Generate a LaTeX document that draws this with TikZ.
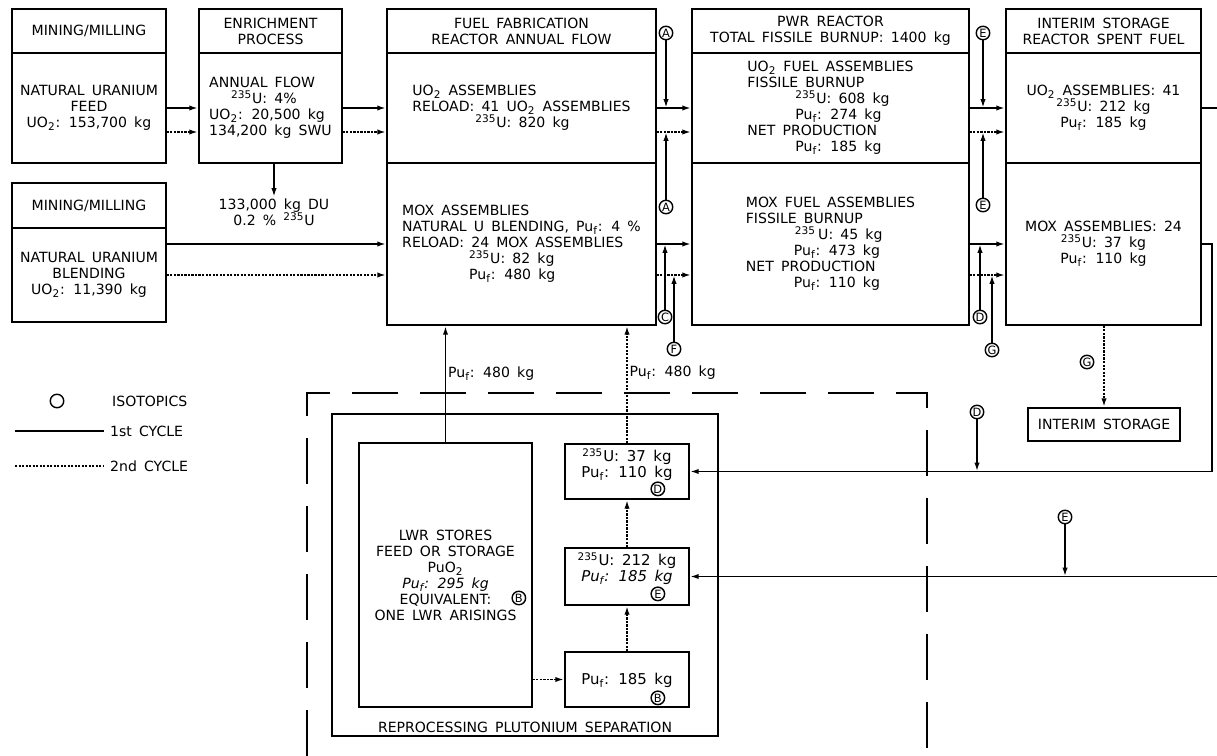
\documentclass[tikz,border=0pt]{standalone}
\usepackage{fontspec}
\setmainfont{DejaVu Sans}[WordSpace=1.6]
\usetikzlibrary{arrows.meta, calc}
\newcommand{\uTF}{\textsuperscript{235}U}
\newcommand{\puF}{Pu\textsubscript{f}}
\newcommand{\uoTwo}{UO\textsubscript{2}}
\tikzstyle{box}=[draw, line width=1pt, inner sep=1pt, align=center]
\tikzstyle{iso}=[circle, draw, line width=0.8pt, inner sep=0pt, minimum size=0.27cm, font=\fontsize{6.5}{6.5}\selectfont]
\tikzstyle{cycA}=[line width=1pt, -{Latex[length=5pt,width=3pt]}]
\tikzstyle{cycB}=[line width=1pt, dash pattern=on 1.2pt off 0.8pt, -{Latex[length=5pt,width=3pt]}]
\tikzstyle{boundary}=[line width=1pt, dash pattern=on 0.92cm off 0.44cm]

\begin{document}
\begin{tikzpicture}[x=0.02cm, y=-0.02cm, every node/.style={font=\fontsize{8}{9.1}\selectfont}]
	\useasboundingbox (0,0) rectangle (1217,756);

	% Mining and enrichment
	\node[box, minimum width=3.08cm, minimum height=0.88cm] (mine1h) at (89,31) {MINING/MILLING};
	\node[box, minimum width=3.08cm, minimum height=2.2cm] (mine1) at (89,108) {NATURAL URANIUM\\FEED\\\uoTwo: 153,700 kg};
	\node[box, minimum width=3.08cm, minimum height=0.9cm] (mine2h) at (89,205.5) {MINING/MILLING};
	\node[box, minimum width=3.08cm, minimum height=1.88cm] (mine2) at (89,275) {NATURAL URANIUM\\BLENDING\\\uoTwo: 11,390 kg};
	\node[box, minimum width=2.86cm, minimum height=0.88cm] (enrh) at (270.5,31) {ENRICHMENT\\PROCESS};
	\node[box, minimum width=2.86cm, minimum height=2.2cm, align=left] (enr) at (270.5,108) {ANNUAL FLOW\\\hspace*{0.44cm}\uTF: 4\%\\\uoTwo: 20,500 kg\\134,200 kg SWU};
	\node[anchor=north, inner sep=1pt, align=center] (du) at (274,197) {133,000 kg DU\\0.2 \% \uTF};

	% Fuel fabrication
	\node[box, minimum width=5.38cm, minimum height=0.88cm] (fabh) at (521.5,31) {FUEL FABRICATION\\REACTOR ANNUAL FLOW};
	\node[box, minimum width=5.38cm, minimum height=2.2cm, align=left] (fab1) at (521.5,108) {\uoTwo\ ASSEMBLIES\\RELOAD: 41 \uoTwo\ ASSEMBLIES\\\hspace*{1.26cm}\uTF: 820 kg};
	\node[box, minimum width=5.38cm, minimum height=3.24cm, align=left] (fab2) at (521.5,244) {MOX ASSEMBLIES\\NATURAL U BLENDING, \puF: 4 \%\\RELOAD: 24 MOX ASSEMBLIES\\\hspace*{1.34cm}\uTF: 82 kg\\\hspace*{1.34cm}\puF: 480 kg};

	% PWR reactor
	\node[box, minimum width=5.54cm, minimum height=0.88cm] (pwrh) at (830.5,31) {PWR REACTOR\\TOTAL FISSILE BURNUP: 1400 kg};
	\node[box, minimum width=5.54cm, minimum height=2.2cm, align=left] (pwr1) at (830.5,108) {\uoTwo\ FUEL ASSEMBLIES\\FISSILE BURNUP\\\hspace*{0.96cm}\uTF: 608 kg\\\hspace*{0.96cm}\puF: 274 kg\\NET PRODUCTION\\\hspace*{0.96cm}\puF: 185 kg};
	\node[box, minimum width=5.54cm, minimum height=3.24cm, align=left] (pwr2) at (830.5,244) {MOX FUEL ASSEMBLIES\\FISSILE BURNUP\\\hspace*{0.98cm}\textsuperscript{235}\,U: 45 kg\\\hspace*{0.96cm}\puF: 473 kg\\NET PRODUCTION\\\hspace*{0.96cm}\puF: 110 kg};

	% Interim storage
	\node[box, minimum width=3.9cm, minimum height=0.88cm] (inth) at (1103.5,31) {INTERIM STORAGE\\REACTOR SPENT FUEL};
	\node[box, minimum width=3.9cm, minimum height=2.2cm] (int1) at (1103.5,108) {\uoTwo\ ASSEMBLIES: 41\\\uTF: 212 kg\\\puF: 185 kg};
	\node[box, minimum width=3.9cm, minimum height=3.24cm] (int2) at (1103.5,244) {MOX ASSEMBLIES: 24\\\uTF: 37 kg\\\puF: 110 kg};
	\node[box, minimum width=3.04cm, minimum height=0.66cm] (istore) at (1104,424.5) {INTERIM STORAGE};

	% Reprocessing
	\draw[boundary] (307,756) -- (307,393) -- (927,393) -- (927,756);
	\node[box, minimum width=7.72cm, minimum height=6.44cm] (repro) at (525,575) {};
	\node[anchor=south, inner sep=2pt] (reprolab) at (repro.south) {REPROCESSING PLUTONIUM SEPARATION};
	\node[box, minimum width=3.46cm, minimum height=5.28cm] (lwr) at (445.5,575) {LWR STORES\\FEED OR STORAGE\\PuO\textsubscript{2}\\\textit{\puF: 295 kg}\\EQUIVALENT:\hspace*{1.2cm}\\ONE LWR ARISINGS};
	\node[box, minimum width=2.48cm, minimum height=1.1cm] (sepD) at (627,471.5) {};
	\node[box, minimum width=2.48cm, minimum height=1.14cm] (sepE) at (627,576.5) {};
	\node[box, minimum width=2.48cm, minimum height=1.1cm] (sepB) at (627,679.5) {};
	\node[align=center, font=\fontsize{8.5}{9}\selectfont] (sepDt) at ($(sepD)+(0,-7)$) {\uTF: 37 kg\\\puF: 110 kg};
	\node[align=center, font=\fontsize{8.5}{9}\selectfont] (sepEt) at ($(sepE)+(0,-8)$) {\uTF: 212 kg\\\textit{\puF: 185 kg}};
	\node[font=\fontsize{8.5}{9}\selectfont] (sepBt) at ($(sepB)+(0,1)$) {\puF: 185 kg};

	% Isotopics
	\node[iso] (isoA1) at (666,33) {A};
	\node[iso] (isoA2) at (666,207) {A};
	\node[iso] (isoC) at (665,317) {C};
	\node[iso] (isoF) at (674,349) {F};
	\node[iso] (isoE1) at (983,33) {E};
	\node[iso] (isoE2) at (983,205) {E};
	\node[iso] (isoD1) at (980,317) {D};
	\node[iso] (isoG1) at (992,350) {G};
	\node[iso] (isoG2) at (1087,362) {G};
	\node[iso] (isoD2) at (977,412) {D};
	\node[iso] (isoE3) at (1065,517) {E};
	\node[iso] (isoB1) at ($(lwr.east)+(-14,23)$) {B};
	\node[iso] (isoD3) at ($(sepD.south east)+(-32,-11)$) {D};
	\node[iso] (isoE4) at ($(sepE.south east)+(-32,-12)$) {E};
	\node[iso] (isoB2) at ($(sepB.south east)+(-32,-10)$) {B};

	% 1st and 2nd cycle flows
	\draw[cycA] (mine1.east) -- (enr.west);
	\draw[cycB] ($(mine1.east)+(0,24)$) -- ($(enr.west)+(0,24)$);
	\draw[cycA] (enr.east) -- (fab1.west);
	\draw[cycB] ($(enr.east)+(0,24)$) -- ($(fab1.west)+(0,24)$);
	\draw[cycA] (du.north |- enr.south) -- (du.north);
	\draw[cycA] (mine2.east |- fab2.west) -- (fab2.west);
	\draw[cycB] (mine2.east) -- ($(fab2.west)+(0,31)$);

	\coordinate (fabd1) at ($(fab1.east)+(0,24)$);
	\coordinate (fabd2) at ($(fab2.east)+(0,31)$);
	\draw[cycA] (fab1.east) -- (pwr1.west);
	\draw[cycB] (fabd1) -- ($(pwr1.west)+(0,24)$);
	\draw[cycA] (fab2.east) -- (pwr2.west);
	\draw[cycB] (fabd2) -- ($(pwr2.west)+(0,31)$);
	\draw[cycA] (isoA1) -- (isoA1 |- fab1.east);
	\draw[cycA] (isoA2) -- (isoA2 |- fabd1);
	\draw[cycA] (isoC) -- (isoC |- fab2.east);
	\draw[cycA] (isoF) -- (isoF |- fabd2);

	\coordinate (pwrd1) at ($(pwr1.east)+(0,24)$);
	\coordinate (pwrd2) at ($(pwr2.east)+(0,31)$);
	\draw[cycA] (pwr1.east) -- (int1.west);
	\draw[cycB] (pwrd1) -- ($(int1.west)+(0,24)$);
	\draw[cycA] (pwr2.east) -- (int2.west);
	\draw[cycB] (pwrd2) -- ($(int2.west)+(0,31)$);
	\draw[cycA] (isoE1) -- (isoE1 |- pwr1.east);
	\draw[cycA] (isoE2) -- (isoE2 |- pwrd1);
	\draw[cycA] (isoD1) -- (isoD1 |- pwr2.east);
	\draw[cycA] (isoG1) -- (isoG1 |- pwrd2);

	\draw[cycB] (istore.north |- int2.south) -- (istore.north);
	\coordinate (rim1) at (1217,108);
	\coordinate (rim2) at (rim1 |- sepE.east);
	\draw[cycA, -] (int1.east) -- (rim1);
	\draw[cycA] (rim2) -- (sepE.east);
	\draw[cycA] (int2.east) -- ++(10,0) |- (sepD.east);
	\draw[cycA] (isoD2) -- (isoD2 |- sepD.east);
	\draw[cycA] (isoE3) -- (isoE3 |- sepE.east);

	\draw[cycA] (lwr.north) -- node[pos=0.59, right, inner sep=1pt] {\puF: 480 kg} (lwr.north |- fab2.south);
	\draw[cycB] (sepD.north) -- node[pos=0.6, right, inner sep=1pt] {\puF: 480 kg} (sepD.north |- fab2.south);
	\draw[cycB] (sepE.north) -- (sepD.south);
	\draw[cycB] (sepB.north) -- (sepE.south);
	\draw[cycB] (lwr.east |- sepB.west) -- (sepB.west);

	% Legend
	\node[iso] (legiso) at (57,401) {};
	\node[anchor=west] (legisot) at (106,401) {ISOTOPICS};
	\node[anchor=west] (leg1) at (104,431) {1st CYCLE};
	\node[anchor=west] (leg2) at (104,466) {2nd CYCLE};
	\coordinate (leg1s) at (15,431);
	\coordinate (leg2s) at (15,466);
	\draw[cycA, -] (leg1s) -- (leg1.west);
	\draw[cycB, -] (leg2s) -- (leg2.west);
\end{tikzpicture}
\end{document}
